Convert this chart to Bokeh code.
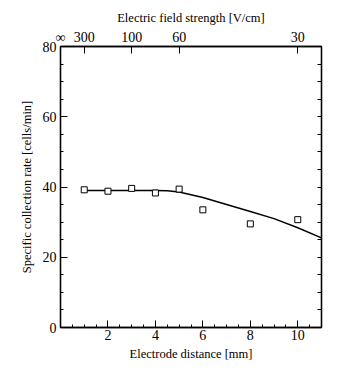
from bokeh.plotting import figure
from bokeh.models import LinearAxis, FixedTicker, Range1d
from bokeh.embed import file_html
from bokeh.resources import INLINE

# measured data (squares)
distance_mm = [1, 2, 3, 4, 5, 6, 8, 10]
rate = [39.2, 38.8, 39.6, 38.3, 39.4, 33.5, 29.5, 30.7]

# fitted curve
curve_x = [1, 2, 3, 4, 4.5, 5, 6, 7, 8, 9, 10, 11]
curve_y = [39.0, 39.0, 39.0, 39.0, 38.9, 38.6, 37.0, 35.0, 33.0, 31.0, 28.4, 25.5]

# top axis: electric field strength
field_labels = ["\u221e", "300", "100", "60", "30"]
field_positions = [0, 1, 3, 5, 10]

FONT = "Liberation Serif"

p = figure(frame_width=261, frame_height=281, output_backend="svg",
           toolbar_location=None, x_range=Range1d(0, 11), y_range=Range1d(0, 80),
           min_border_left=60, min_border_top=46, min_border_right=23, min_border_bottom=30,
           x_axis_label="Electrode distance [mm]",
           y_axis_label="Specific collection rate [cells/min]")

p.xgrid.visible = False
p.ygrid.visible = False
p.outline_line_color = "black"
p.outline_line_width = 1.3
p.background_fill_color = "white"
p.border_fill_color = "white"

def style(ax):
    ax.axis_line_color = "black"
    ax.axis_line_width = 1.3
    ax.major_tick_in = 7
    ax.major_tick_out = 0
    ax.minor_tick_in = 3
    ax.minor_tick_out = 0
    ax.major_tick_line_color = "black"
    ax.minor_tick_line_color = "black"
    ax.major_label_text_font = FONT
    ax.major_label_text_font_size = "14px"
    ax.major_label_text_color = "black"
    ax.axis_label_text_font = FONT
    ax.axis_label_text_font_size = "12.5px"
    ax.axis_label_text_font_style = "normal"
    ax.axis_label_text_color = "black"

xa = p.xaxis[0]
xa.ticker = FixedTicker(ticks=[2, 4, 6, 8, 10],
                        minor_ticks=[x * 0.5 for x in range(1, 22)])
style(xa)
xa.major_label_standoff = 2
xa.axis_label_standoff = 4

ya = p.yaxis[0]
ya.ticker = FixedTicker(ticks=[0, 20, 40, 60, 80], minor_ticks=list(range(0, 81, 5)))
style(ya)
ya.major_label_standoff = 4
ya.axis_label_standoff = 6

top = LinearAxis(axis_label="Electric field strength [V/cm]",
                 ticker=FixedTicker(ticks=field_positions, minor_ticks=[]),
                 major_label_overrides={pos: lab for pos, lab in zip(field_positions, field_labels)})
style(top)
top.major_label_standoff = 2
top.axis_label_standoff = 2
p.add_layout(top, "above")

right = LinearAxis(ticker=FixedTicker(ticks=[], minor_ticks=list(range(0, 81, 5))))
style(right)
right.minor_tick_in = 4
p.add_layout(right, "right")

p.line(curve_x, curve_y, line_color="black", line_width=1.5)
p.scatter(distance_mm, rate, marker="square", size=6, line_color="black",
          fill_color="white", line_width=1)

open("out.html", "w").write(file_html(p, INLINE))
